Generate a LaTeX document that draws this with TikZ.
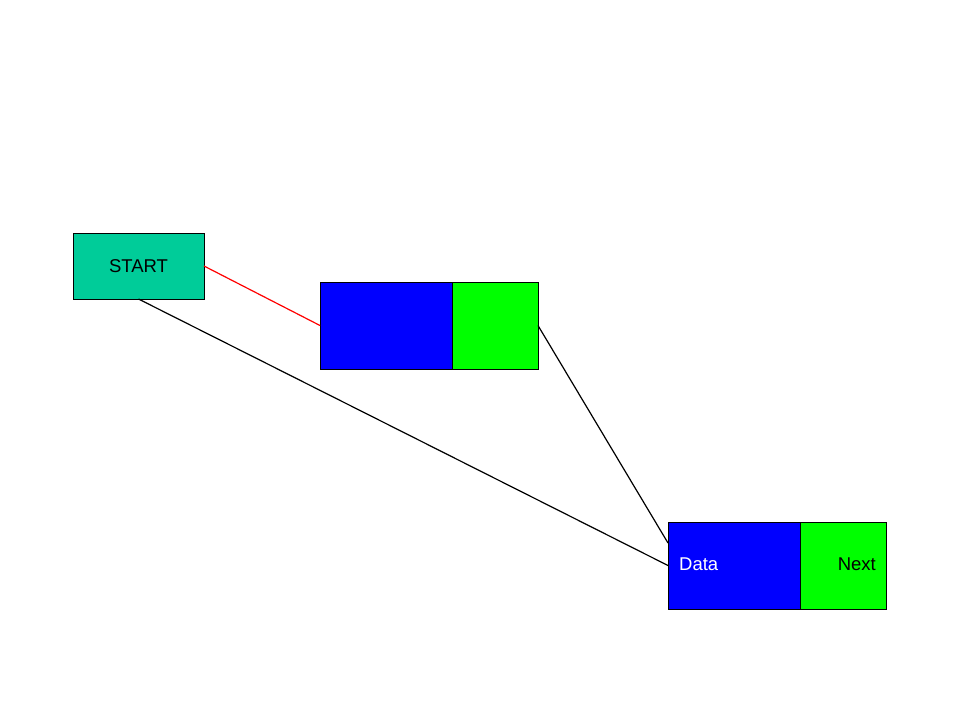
\documentclass[tikz,border=0pt]{standalone}
\usepackage{fontspec}
\setmainfont{Liberation Sans}
\definecolor{startc}{RGB}{0,204,153}
\definecolor{bluec}{RGB}{0,0,255}
\definecolor{greenc}{RGB}{0,255,0}
\begin{document}
\begin{tikzpicture}[x=1bp,y=-1bp,
  cell/.style={draw=black,line width=0.9bp,inner sep=0pt,outer sep=0pt,anchor=north west},
  conn/.style={line width=1.2bp},
  lbl/.style={font=\fontsize{18.5bp}{22bp}\selectfont}]
\useasboundingbox[fill=white] (0,0) rectangle (960,720);
\node[cell,fill=startc,minimum width=131bp,minimum height=66bp,lbl] (start) at (73,233) {START};
\node[cell,fill=bluec,minimum width=132bp,minimum height=87bp] (d1) at (320,282) {};
\node[cell,fill=greenc,minimum width=86bp,minimum height=87bp] (n1) at (452,282) {};
\node[cell,fill=bluec,minimum width=132bp,minimum height=87bp] (d2) at (668,522) {};
\node[cell,fill=greenc,minimum width=86bp,minimum height=87bp] (n2) at (800,522) {};
\node[lbl,text=white,anchor=west,inner sep=0pt] (dl) at (679,564) {Data};
\node[lbl,text=black,anchor=east,inner sep=0pt] (nl) at (876,564) {Next};
\coordinate (d2t) at (668,543);
\draw[conn,red] (start.east) -- (d1.west);
\draw[conn] (start.south) -- (d2.west);
\draw[conn] (n1.east) -- (d2t);
\end{tikzpicture}
\end{document}
